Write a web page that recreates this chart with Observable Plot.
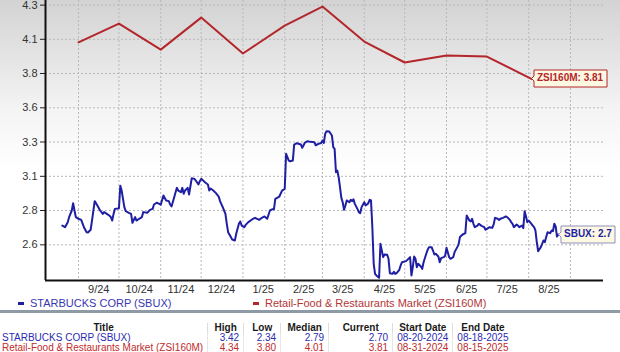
<!DOCTYPE html>
<html>
<head>
<meta charset="utf-8">
<script src="https://cdn.jsdelivr.net/npm/d3@7"></script>
<script src="https://cdn.jsdelivr.net/npm/@observablehq/plot@0.6"></script>
<style>
  html, body { margin: 0; padding: 0; background: #fff; }
  #wrap { position: relative; width: 620px; height: 352px; overflow: hidden;
          background: linear-gradient(to bottom, #d3d3d3 0px, #f4f4f4 110px, #ffffff 170px, #ffffff 352px);
          font-family: "Liberation Sans", Arial, sans-serif; }
  #chart { position: absolute; left: 0; top: 0; }
  .leg { position: absolute; top: 297px; font-size: 11px; line-height: 12px; white-space: nowrap; }
  .leg .dash { display: inline-block; width: 6px; height: 3px; vertical-align: middle; margin-right: 6px; position: relative; top: -1px; }
  #bar { position: absolute; left: 0; top: 310px; width: 620px; height: 3px; background: #8e9ba6; }
  #stats { position: absolute; left: 0; top: 323px; border-collapse: collapse; table-layout: fixed;
           font-family: "Liberation Sans", Arial, sans-serif; font-size: 10px; }
  #stats td, #stats th { padding: 0 4px; height: 10px; line-height: 10px; white-space: nowrap; overflow: hidden; }
  #stats th { font-weight: bold; color: #1a1a1a; text-align: center; border-left: 1px solid #dcdcdc; }
  #stats th:first-child, #stats td:first-child { border-left: none; text-align: center; }
  #stats td { text-align: right; border-left: 1px solid #e6e6e6; }
  #stats td:first-child { text-align: left; padding-left: 2px; }
</style>
</head>
<body>
<div id="wrap">
  <div id="chart"></div>
  <div class="leg" id="leg1" style="left:18px;"></div>
  <div class="leg" id="leg2" style="left:253px;"></div>
  <div id="bar"></div>
  <table id="stats"></table>
</div>
<script>
// ---------------- DATA ----------------
const sbuxDates = [
"2024-08-20","2024-08-22","2024-08-24","2024-08-25","2024-08-27","2024-08-28","2024-08-29","2024-08-30",
"2024-09-01","2024-09-03","2024-09-05","2024-09-07","2024-09-08","2024-09-10","2024-09-11","2024-09-13","2024-09-15","2024-09-17","2024-09-19","2024-09-20","2024-09-22","2024-09-24","2024-09-25","2024-09-26","2024-09-27","2024-09-28","2024-09-30",
"2024-10-01","2024-10-02","2024-10-03","2024-10-05","2024-10-06","2024-10-08","2024-10-10","2024-10-11","2024-10-13","2024-10-14","2024-10-16","2024-10-18","2024-10-19","2024-10-22","2024-10-24","2024-10-26","2024-10-27","2024-10-29","2024-10-31",
"2024-11-01","2024-11-03","2024-11-05","2024-11-07","2024-11-08","2024-11-09","2024-11-11","2024-11-12","2024-11-13","2024-11-14","2024-11-16","2024-11-17","2024-11-18","2024-11-19","2024-11-21","2024-11-22","2024-11-24","2024-11-26","2024-11-27","2024-11-29","2024-11-30",
"2024-12-01","2024-12-02","2024-12-04","2024-12-06","2024-12-07","2024-12-08","2024-12-10","2024-12-12","2024-12-14","2024-12-15","2024-12-17","2024-12-19","2024-12-20","2024-12-21","2024-12-23","2024-12-24","2024-12-26","2024-12-27","2024-12-28","2024-12-29","2024-12-30","2024-12-31",
"2025-01-02","2025-01-03","2025-01-05","2025-01-08","2025-01-10","2025-01-13","2025-01-15","2025-01-17","2025-01-19","2025-01-21","2025-01-23","2025-01-24","2025-01-25","2025-01-28","2025-01-30",
"2025-02-01","2025-02-02","2025-02-04","2025-02-05","2025-02-07","2025-02-08","2025-02-10","2025-02-13","2025-02-14","2025-02-16","2025-02-18","2025-02-20","2025-02-23","2025-02-24","2025-02-26","2025-02-28",
"2025-03-01","2025-03-02","2025-03-03","2025-03-04","2025-03-06","2025-03-08","2025-03-09","2025-03-10","2025-03-11","2025-03-12","2025-03-13","2025-03-14","2025-03-15","2025-03-16","2025-03-17","2025-03-18","2025-03-19","2025-03-21","2025-03-22","2025-03-23","2025-03-24","2025-03-25","2025-03-27","2025-03-28","2025-03-29","2025-03-30",
"2025-04-01","2025-04-02","2025-04-03","2025-04-04","2025-04-05","2025-04-06","2025-04-07","2025-04-08","2025-04-09","2025-04-10","2025-04-12","2025-04-13","2025-04-14","2025-04-15","2025-04-16","2025-04-18","2025-04-19","2025-04-20","2025-04-22","2025-04-23","2025-04-24","2025-04-25","2025-04-27","2025-04-28","2025-04-29",
"2025-05-02","2025-05-03","2025-05-05","2025-05-06","2025-05-07","2025-05-08","2025-05-09","2025-05-10","2025-05-11","2025-05-13","2025-05-14","2025-05-15","2025-05-17","2025-05-18","2025-05-19","2025-05-21","2025-05-22","2025-05-23","2025-05-24","2025-05-26","2025-05-27","2025-05-28","2025-05-30","2025-05-31",
"2025-06-01","2025-06-03","2025-06-04","2025-06-06","2025-06-07","2025-06-09","2025-06-10","2025-06-11","2025-06-13","2025-06-15","2025-06-16","2025-06-18","2025-06-19","2025-06-20","2025-06-21","2025-06-22","2025-06-24","2025-06-25","2025-06-27","2025-06-29","2025-06-30",
"2025-07-01","2025-07-03","2025-07-05","2025-07-06","2025-07-07","2025-07-09","2025-07-10","2025-07-11","2025-07-13","2025-07-15","2025-07-16","2025-07-18","2025-07-19","2025-07-20","2025-07-21","2025-07-23","2025-07-24","2025-07-25","2025-07-27","2025-07-28","2025-07-29","2025-07-30","2025-07-31",
"2025-08-01","2025-08-02","2025-08-04","2025-08-05","2025-08-06","2025-08-07","2025-08-08","2025-08-10","2025-08-11","2025-08-12","2025-08-13","2025-08-14","2025-08-15","2025-08-17","2025-08-18","2025-08-19","2025-08-20","2025-08-21","2025-08-22","2025-08-23"];

const sbuxValues = [
2.725,2.713,2.750,2.787,2.836,2.890,2.836,2.787,
2.775,2.767,2.713,2.676,2.674,2.694,2.762,2.905,2.873,2.836,2.811,2.824,2.811,2.797,2.787,2.762,2.811,2.848,2.851,
2.853,3.018,2.983,2.861,2.831,2.821,2.811,2.745,2.787,2.762,2.775,2.787,2.824,2.819,2.841,2.848,2.880,2.893,2.885,
2.878,2.947,2.910,2.905,2.880,2.866,2.934,2.971,3.003,2.983,2.971,3.003,2.959,2.983,3.003,2.954,3.074,3.069,3.057,3.028,3.052,
3.069,3.062,3.042,3.028,2.983,2.998,2.983,2.964,2.939,2.905,2.861,2.811,2.738,2.676,2.640,2.622,2.615,2.664,2.701,2.738,2.755,2.725,
2.713,2.730,2.750,2.772,2.782,2.767,2.782,2.792,2.775,2.836,2.846,2.846,2.922,2.939,2.983,
2.996,3.254,3.204,3.199,3.204,3.322,3.332,3.322,3.298,3.337,3.347,3.342,3.339,3.317,3.327,3.334,
3.352,3.334,3.401,3.421,3.418,3.389,3.303,3.290,3.118,3.131,3.082,3.008,2.929,2.897,2.841,2.873,2.910,2.897,2.915,2.905,2.919,2.885,2.846,2.824,2.816,2.861,
2.897,2.873,2.880,2.890,2.915,2.910,2.713,2.443,2.369,2.357,2.340,2.590,2.541,2.492,2.512,2.509,2.480,2.374,2.369,2.384,2.369,2.374,2.399,2.431,2.455,
2.463,2.472,2.492,2.357,2.418,2.497,2.480,2.418,2.443,2.423,2.406,2.455,2.517,2.546,2.566,2.566,2.541,2.512,2.517,2.497,2.455,2.485,2.492,2.502,
2.561,2.492,2.480,2.492,2.529,2.566,2.586,2.640,2.659,2.669,2.799,2.762,2.755,2.775,2.738,2.713,2.725,2.738,2.723,2.713,2.694,
2.701,2.713,2.708,2.733,2.782,2.775,2.767,2.775,2.782,2.792,2.787,2.767,2.750,2.738,2.713,2.733,2.725,2.713,2.725,2.706,2.831,2.792,2.750,
2.762,2.750,2.725,2.713,2.689,2.603,2.536,2.566,2.590,2.615,2.603,2.640,2.676,2.669,2.689,2.684,2.738,2.718,2.644,2.659];

const zsiDates = ["2024-09-01","2024-10-01","2024-11-01","2024-12-01","2025-01-01","2025-02-01",
                  "2025-03-01","2025-04-01","2025-05-01","2025-06-01","2025-07-01","2025-08-03"];
const zsiValues = [4.076,4.214,4.022,4.258,3.993,4.199,4.339,4.081,3.927,3.978,3.971,3.806];

const seriesNames = ["STARBUCKS CORP (SBUX)", "Retail-Food & Restaurants Market (ZSI160M)"];
const seriesShort = ["SBUX", "ZSI160M"];
const currentLabels = ["2.7", "3.81"];

const yTickValues = [2.583, 2.836, 3.088, 3.341, 3.593, 3.846, 4.098, 4.350];
const yTickLabels = ["2.6", "2.8", "3.1", "3.3", "3.6", "3.8", "4.1", "4.3"];
const yDomain = [2.320, 4.384];

const monthStarts = ["2024-09-01","2024-10-01","2024-11-01","2024-12-01","2025-01-01","2025-02-01","2025-03-01",
                     "2025-04-01","2025-05-01","2025-06-01","2025-07-01","2025-08-01","2025-09-01"];
const xTickDates = ["2024-09-16","2024-10-16","2024-11-16","2024-12-16","2025-01-16","2025-02-15",
                    "2025-03-16","2025-04-16","2025-05-16","2025-06-16","2025-07-16","2025-08-16"];
const xTickLabels = ["9/24","10/24","11/24","12/24","1/25","2/25","3/25","4/25","5/25","6/25","7/25","8/25"];
const xDomain = ["2024-08-07T12:00:00Z", "2025-09-25T12:00:00Z"];

const tableHeaders = ["Title", "High", "Low", "Median", "Current", "Start Date", "End Date"];
const tableTitles = ["STARBUCKS CORP (SBUX)", "Retail-Food & Restaurants Market (ZSI160M)"];
const tableHigh = ["3.42", "4.34"];
const tableLow = ["2.34", "3.80"];
const tableMedian = ["2.79", "4.01"];
const tableCurrent = ["2.70", "3.81"];
const tableStart = ["08-20-2024", "08-31-2024"];
const tableEnd = ["08-18-2025", "08-15-2025"];

// ---------------- BUILD ----------------
const BLUE = "#1f1fa3", RED = "#b3262b";
const sbux = sbuxDates.map((d, i) => ({date: new Date(d), value: sbuxValues[i]}));
const zsi = zsiDates.map((d, i) => ({date: new Date(d), value: zsiValues[i]}));
const xTicks = xTickDates.map(d => new Date(d));
const xLabelMap = new Map(xTicks.map((d, i) => [+d, xTickLabels[i]]));
const yLabelMap = new Map(yTickValues.map((d, i) => [d, yTickLabels[i]]));
const grid = monthStarts.map(d => new Date(d));
const xDom = xDomain.map(d => new Date(d));
const sbuxLast = [{...sbux[sbux.length - 1], label: `${seriesShort[0]}: ${currentLabels[0]}`}];
const zsiLast = [{...zsi[zsi.length - 1], label: `${seriesShort[1]}: ${currentLabels[1]}`}];

const chart = Plot.plot({
  width: 620, height: 297,
  marginLeft: 45, marginRight: 17, marginTop: 0, marginBottom: 17,
  style: {background: "transparent", fontFamily: "'Liberation Sans', Arial, sans-serif", fontSize: "11px", color: "#333", overflow: "visible"},
  x: {type: "utc", domain: xDom, axis: null},
  y: {domain: yDomain, axis: null},
  marks: [
    Plot.gridY(yTickValues, {stroke: "#b8b8b8", strokeOpacity: 1, strokeDasharray: "2,2"}),
    Plot.gridX(grid, {stroke: "#b8b8b8", strokeOpacity: 1, strokeDasharray: "2,2"}),
    Plot.axisY(yTickValues, {label: null, tickFormat: d => yLabelMap.get(d), tickSize: 5, tickPadding: 3, fontSize: 11, stroke: "#222", fill: "#333"}),
    Plot.axisX(xTicks, {label: null, tickFormat: d => xLabelMap.get(+d), tickSize: 0, tickPadding: 5, fontSize: 11, fill: "#333"}),
    Plot.ruleX([xDom[0]], {stroke: "#111", strokeWidth: 2}),
    Plot.ruleY([yDomain[0]], {stroke: "#111", strokeWidth: 2}),
    Plot.line(zsi, {x: "date", y: "value", stroke: RED, strokeWidth: 2}),
    Plot.line(sbux, {x: "date", y: "value", stroke: BLUE, strokeWidth: 2}),
    Plot.tip(zsiLast, {x: "date", y: "value", title: "label", anchor: "left", fill: "#fdf8e2", stroke: RED,
                       pathFilter: "none", pointerSize: 5, textPadding: 3, fontSize: 10, fontWeight: "bold"}),
    Plot.tip(sbuxLast, {x: "date", y: "value", title: "label", anchor: "left", fill: "#fdf8e2", stroke: "#8f8fc0",
                        pathFilter: "none", pointerSize: 5, textPadding: 3, fontSize: 10, fontWeight: "bold"})
  ]
});
document.getElementById("chart").appendChild(chart);

// colour the label texts
const tips = d3.select(chart).selectAll('g[aria-label="tip"]').nodes();
[RED, BLUE].forEach((c, i) => {
  if (tips[i]) d3.select(tips[i]).selectAll("text, tspan").attr("fill", c).style("fill", c).attr("stroke", "none").style("font-weight", "bold");
});

// legend
const legColors = [BLUE, RED];
const legTextColors = ["#3737b0", "#b33636"];
["leg1", "leg2"].forEach((id, i) => {
  const el = document.getElementById(id);
  el.innerHTML = `<span class="dash" style="background:${legColors[i]}"></span><span style="color:${legTextColors[i]}">${seriesNames[i].replace(/&/g, "&amp;")}</span>`;
});

// table
const colW = [160, 36, 37, 48, 64, 53, 58];
const rowColors = ["#2b2bb0", "#bf2b2b"];
const tbl = d3.select("#stats");
tbl.append("colgroup").selectAll("col").data(colW).join("col").style("width", d => d + "px");
tbl.append("tr").selectAll("th").data(tableHeaders).join("th").text(d => d);
tableTitles.forEach((t, i) => {
  const cells = [t, tableHigh[i], tableLow[i], tableMedian[i], tableCurrent[i], tableStart[i], tableEnd[i]];
  tbl.append("tr").style("color", rowColors[i]).selectAll("td").data(cells).join("td").text(d => d);
});
</script>
</body>
</html>
